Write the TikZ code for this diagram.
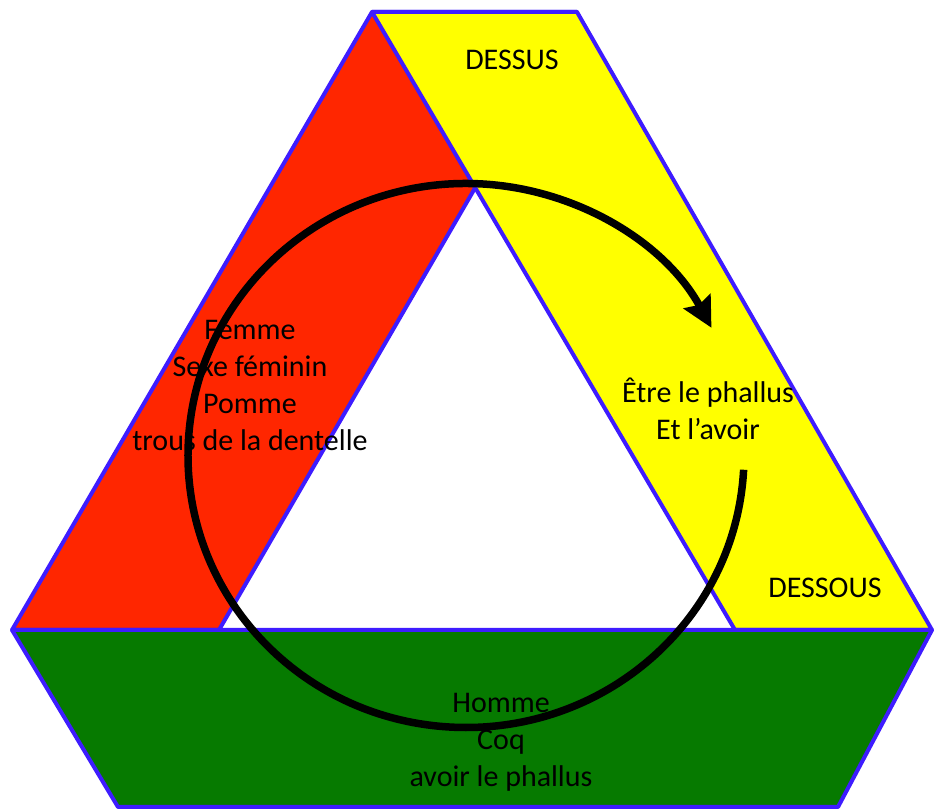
\documentclass[tikz,border=0pt]{standalone}
\usepackage{fontspec}
\setmainfont{Carlito}
\usepackage{tikz}
\usetikzlibrary{arrows.meta}

\definecolor{bandred}{RGB}{255,38,0}
\definecolor{bandyellow}{RGB}{255,255,0}
\definecolor{bandgreen}{RGB}{6,122,0}
\definecolor{bandblue}{RGB}{62,28,255}

\begin{document}
\begin{tikzpicture}[x=1pt, y=1pt,
    band/.style={draw=bandblue, line width=4pt, line join=round},
    lbl/.style={align=center, font=\fontsize{30}{37}\selectfont}
]
\useasboundingbox (0,0) rectangle (934,810);
  % Corners of the three bands
  \coordinate (A) at (372,798);
  \coordinate (B) at (577,798);
  \coordinate (C) at (932,180);
  \coordinate (D) at (838,3);
  \coordinate (E) at (118,3);
  \coordinate (F) at (12,180);
  \coordinate (G) at (219,180);
  \coordinate (H) at (735,180);
  \coordinate (O) at (466,354.5);

  % Bands: red below, yellow over it, green on top
\filldraw[band, fill=bandred] (A) -- (F) -- (G) -- (B) -- cycle;
\filldraw[band, fill=bandyellow] (A) -- (B) -- (C) -- (H) -- cycle;
\filldraw[band, fill=bandgreen] (F) -- (C) -- (D) -- (E) -- cycle;

  % Labels
\node[lbl] (dessus) at (512,750) {DESSUS};
\node[lbl] (dessous) at (825,222) {DESSOUS};
\node[lbl] (femme) at (250,425) {Femme\\Sexe féminin\\Pomme\\trous de la dentelle};
\node[lbl] (etre) at (708,401) {Être le phallus\\Et l’avoir};
\node[lbl] (homme) at (501,68) {Homme\\Coq\\avoir le phallus};

  % Circular arrow
\draw[line width=7.5pt, -{Stealth[length=30pt, width=30pt, inset=4pt]}]
  ([shift={(-3:278 and 272)}]O) arc[start angle=-3, end angle=-332, x radius=278, y radius=272];
\end{tikzpicture}
\end{document}
